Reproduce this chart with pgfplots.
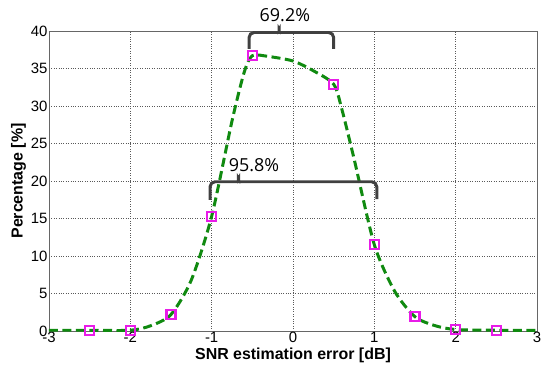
\documentclass[border=0pt]{standalone}
\usepackage{pgfplots}
\pgfplotsset{compat=1.18}
\usepackage{fontspec}
\setmainfont{Liberation Sans}
\newfontfamily\annfont{Open Sans}
\definecolor{curvegreen}{HTML}{108A10}
\definecolor{mk}{HTML}{E81CE8}
\definecolor{brace}{HTML}{404040}
\begin{document}
\begin{tikzpicture}
\useasboundingbox (-49bp,-47bp) rectangle (501bp,331bp);
\begin{axis}[
  at={(0,0)}, anchor=south west,
  scale only axis, width=488bp, height=300bp,
  xmin=-3, xmax=3, ymin=0, ymax=40,
  xtick={-3,-2,...,3}, ytick={0,5,...,40},
  grid=major,
  major grid style={dotted, line width=0.9pt, black!65},
  axis line style={black!60, line width=0.9pt},
  tick style={draw=none},
  /pgf/number format/assume math mode=true,
  tick label style={font=\fontsize{15}{17}\selectfont},
  xlabel={\bfseries SNR estimation error [dB]},
  ylabel={\bfseries Percentage [\%]},
  label style={font=\fontsize{16}{18}\selectfont},
  xlabel style={yshift=-1bp},
  ylabel style={yshift=-2bp},
  xticklabel style={yshift=0bp, inner sep=1bp},
  yticklabel style={xshift=2bp},
  clip=false,
]
\addplot[curvegreen, line width=3pt, dash pattern=on 9bp off 4.5bp, smooth, tension=0.45] coordinates {
(-3,0.1) (-2.5,0.1) (-2,0.1) (-1.75,0.7) (-1.5,2.2) (-1.25,6.8) (-1,15.3) (-0.75,28) (-0.6,34.5) (-0.5,36.7) (-0.3,36.6) (0,36.0) (0.25,34.7) (0.5,32.9) (0.6,29.6) (0.75,23) (1,11.5) (1.25,5.3) (1.5,1.9) (1.75,0.7) (2,0.2) (2.5,0.1) (3,0.1)
};
\addplot[only marks, mark=square, mark size=4.6pt, mk, line width=2.2pt] coordinates {
(-2.5,0.1) (-2,0.1) (-1.5,2.2) (-1,15.3) (-0.5,36.7) (0.5,32.9) (1,11.5) (1.5,1.9) (2,0.2) (2.5,0.1)
};
% top brace
\draw[brace, line width=3pt, rounded corners=5bp]
  (axis cs:-0.54,37.6) -- (axis cs:-0.54,39.8) -- (axis cs:-0.22,39.8)
  to[out=0,in=-90] (axis cs:-0.17,40.9) to[out=-90,in=180] (axis cs:-0.12,39.8)
  -- (axis cs:0.5,39.8) -- (axis cs:0.5,37.6);
\node[anchor=base, font=\annfont\fontsize{18}{20}\selectfont] at (axis cs:-0.1,41.3) {69.2\%};
% lower brace
\draw[brace, line width=3pt, rounded corners=5bp]
  (axis cs:-1.02,17.5) -- (axis cs:-1.02,19.9) -- (axis cs:-0.72,19.9)
  to[out=0,in=-90] (axis cs:-0.67,21.0) to[out=-90,in=180] (axis cs:-0.62,19.9)
  -- (axis cs:1.03,19.9) -- (axis cs:1.03,17.6);
\node[anchor=base, font=\annfont\fontsize{18}{20}\selectfont] at (axis cs:-0.48,21.3) {95.8\%};
\end{axis}
\end{tikzpicture}
\end{document}
